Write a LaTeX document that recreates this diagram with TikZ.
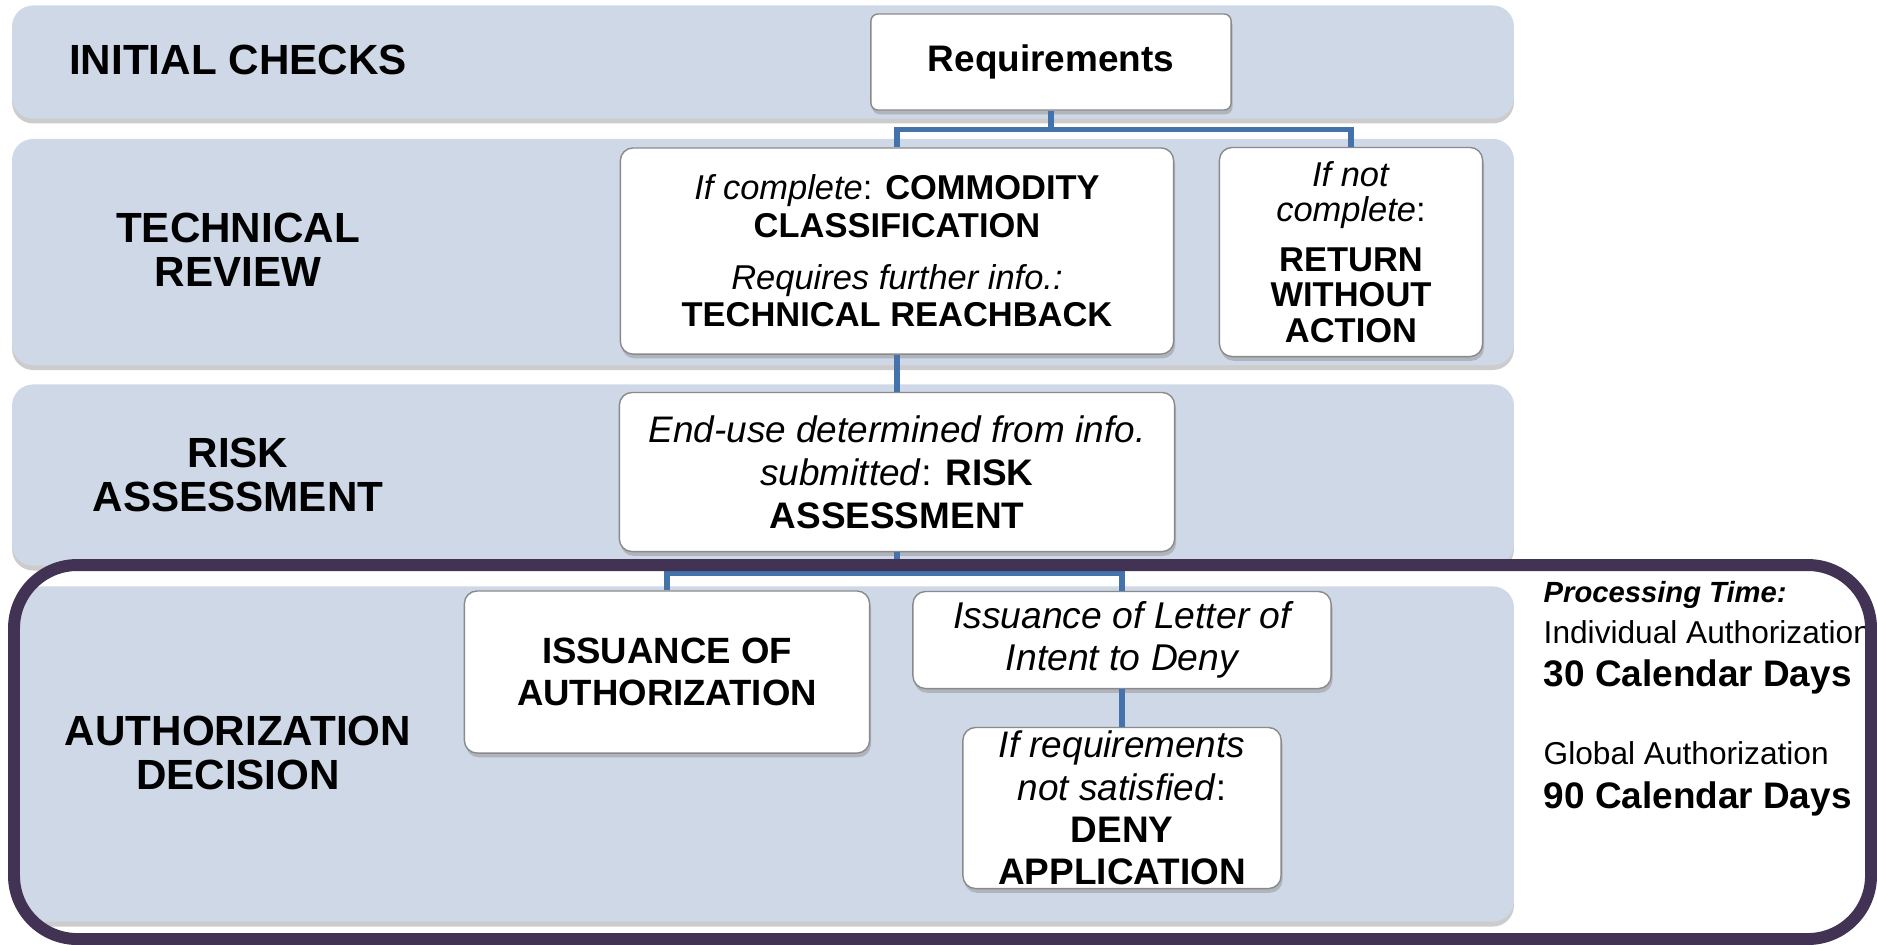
\documentclass[tikz,border=0pt]{standalone}
\usepackage{fontspec}
\setmainfont{Liberation Sans}
\usetikzlibrary{shadows}
\definecolor{bandblue}{HTML}{CFD8E7}
\definecolor{linkblue}{HTML}{4472AA}
\definecolor{framepurple}{HTML}{423254}
\definecolor{boxgrey}{HTML}{8A8A8A}

\begin{document}
\begin{tikzpicture}[%
      x=0.01cm, y=-0.01cm,
      band/.style={rectangle,fill=bandblue,rounded corners=6pt,inner sep=0pt,drop shadow={shadow xshift=0pt,shadow yshift=-1.4pt,opacity=0.4}},
      box/.style={rectangle,draw=boxgrey,fill=white,rounded corners=3.6pt,align=center,inner sep=0pt,drop shadow={shadow xshift=0.4pt,shadow yshift=-1.2pt,opacity=0.4}},
      lane/.style={align=center,font=\fontsize{12}{12.5}\selectfont\bfseries},
      link/.style={draw=linkblue,line width=1.5pt},
      ptime/.style={anchor=base west,inner sep=0pt}
      ]
      \useasboundingbox (0,0) rectangle (1877,944);
      % lanes
      \draw (763,62) node[band,minimum width=15.01cm,minimum height=1.13cm] (b1) {};
      \draw (763,252) node[band,minimum width=15.01cm,minimum height=2.26cm] (b2) {};
      \draw (763,475) node[band,minimum width=15.01cm,minimum height=1.81cm] (b3) {};
      \draw (767,754) node[band,minimum width=14.93cm,minimum height=3.35cm] (b4) {};
      \draw (238,60) node[lane] (l1) {INITIAL CHECKS};
      \draw (238,250) node[lane] (l2) {TECHNICAL\\REVIEW};
      \draw (238,475) node[lane] (l3) {RISK\\ASSESSMENT};
      \draw (238,753) node[lane] (l4) {AUTHORIZATION\\DECISION};
      % steps
      \draw (1051,62) node[box,rounded corners=2pt,minimum width=3.6cm,minimum height=0.96cm,font=\fontsize{10.5}{12}\selectfont\bfseries] (req) {Requirements};
      \draw (897,251) node[box,minimum width=5.53cm,minimum height=2.06cm,font=\fontsize{9.8}{10.8}\selectfont] (comm) {\textit{If complete}: \textbf{COMMODITY}\\\textbf{CLASSIFICATION}\\[3.8pt]\textit{Requires further info.:}\\\textbf{TECHNICAL REACHBACK}};
      \draw (1351,252) node[box,minimum width=2.63cm,minimum height=2.09cm,font=\fontsize{9.8}{10.1}\selectfont] (ret) {\textit{If not}\\\textit{complete}:\\[4pt]\textbf{RETURN}\\\textbf{WITHOUT}\\\textbf{ACTION}};
      \draw (897,472) node[box,minimum width=5.55cm,minimum height=1.59cm,font=\fontsize{10.5}{12.2}\selectfont] (risk) {\textit{End-use determined from info.}\\\textit{submitted}: \textbf{RISK}\\\textbf{ASSESSMENT}};
      \draw (667,672) node[box,minimum width=4.05cm,minimum height=1.62cm,font=\fontsize{10.4}{12}\selectfont\bfseries] (iss) {ISSUANCE OF\\AUTHORIZATION};
      \draw (1122,640) node[box,minimum width=4.18cm,minimum height=0.97cm,font=\fontsize{10.6}{12}\selectfont\itshape] (letter) {Issuance of Letter of\\Intent to Deny};
      \draw (1122,808) node[box,minimum width=3.18cm,minimum height=1.61cm,font=\fontsize{10.5}{12}\selectfont] (deny) {\textit{If requirements}\\\textit{not satisfied}:\\\textbf{DENY}\\\textbf{APPLICATION}};
      % links
      \draw[link] (req.south) -- ++(0,19) -| (comm.north);
      \draw[link] (req.south) -- ++(0,19) -| (ret.north);
      \draw[link] (comm.south) -- (risk.north);
      \draw[link] (risk.south) -- ++(0,21) -| (iss.north);
      \draw[link] (risk.south) -- ++(0,21) -| (letter.north);
      \draw[link] (letter.south) -- (deny.north);
      % processing time
      \draw (1543,602) node[ptime,font=\fontsize{8.3}{10}\selectfont\bfseries\itshape] (pt) {Processing Time:};
      \draw (1543,643) node[ptime,font=\fontsize{9}{10}\selectfont] (indiv) {Individual Authorization};
      \draw (1543,686) node[ptime,font=\fontsize{10.5}{12}\selectfont\bfseries] (days30) {30 Calendar Days};
      \draw (1543,764) node[ptime,font=\fontsize{9}{10}\selectfont] (glob) {Global Authorization};
      \draw (1543,808) node[ptime,font=\fontsize{10.5}{12}\selectfont\bfseries] (days90) {90 Calendar Days};
      \draw[framepurple,line width=3.4pt,rounded corners=18pt] (14,565) rectangle (1871,939);
    \end{tikzpicture}
\end{document}
